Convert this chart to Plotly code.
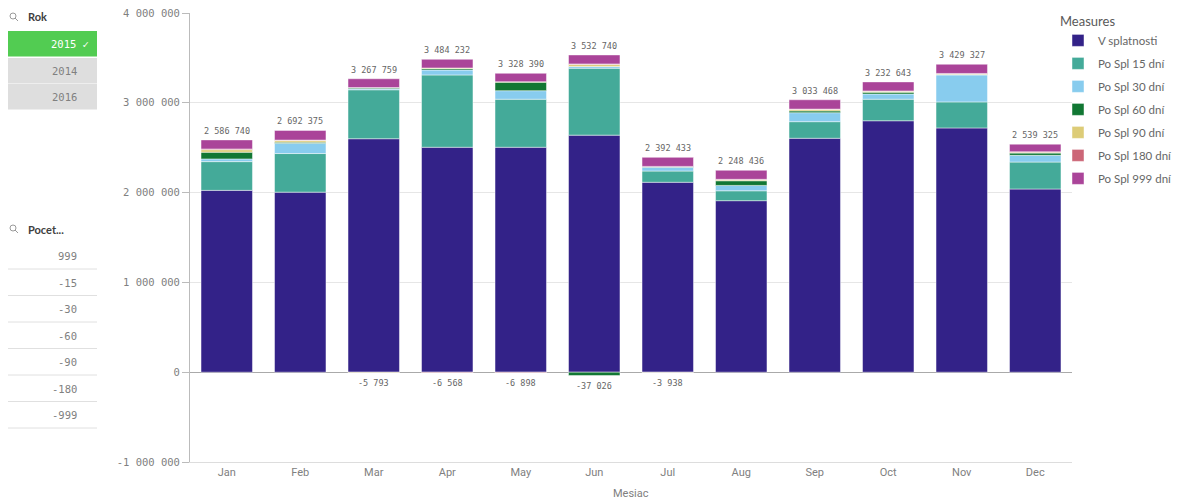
import plotly.graph_objects as go

months = ["Jan", "Feb", "Mar", "Apr", "May", "Jun", "Jul", "Aug", "Sep", "Oct", "Nov", "Dec"]

v_splatnosti = [2025000, 2005000, 2600000, 2505000, 2505000, 2640000, 2115000, 1910000, 2605000, 2800000, 2720000, 2040000]
po_spl_15 = [320000, 430000, 545000, 805000, 535000, 745000, 125000, 110000, 185000, 240000, 290000, 300000]
po_spl_30 = [30000, 115000, 12000, 55000, 95000, 20000, 42000, 60000, 100000, 58000, 300000, 75000]
po_spl_60 = [75000, 12000, 10000, 15000, 95000, -37026, 5000, 52000, 20000, 20000, 5000, 25000]
po_spl_90 = [28000, 18000, -5793, 8000, 5000, 22000, -3938, 10000, 15000, 10000, 8000, 10000]
po_spl_180 = [8000, 5000, 3000, -6568, -6898, 6000, 5000, 6000, 5000, 4000, 4000, 5000]
po_spl_999 = [100740, 107375, 97759, 96232, 93390, 99740, 100433, 100436, 103468, 100643, 102327, 84325]

series_names = ["V splatnosti", "Po Spl 15 dní", "Po Spl 30 dní", "Po Spl 60 dní",
                "Po Spl 90 dní", "Po Spl 180 dní", "Po Spl 999 dní"]
series_values = [v_splatnosti, po_spl_15, po_spl_30, po_spl_60, po_spl_90, po_spl_180, po_spl_999]
series_colors = ["#332288", "#44AA99", "#88CCEE", "#117733", "#DDCC77", "#CC6677", "#AA4499"]

y_ticks = [-1000000, 0, 1000000, 2000000, 3000000, 4000000]

rok_items = ["2015", "2014", "2016"]
pocet_items = ["999", "-15", "-30", "-60", "-90", "-180", "-999"]


def fmt(v):
    s = f"{abs(int(v)):,}".replace(",", " ")
    return ("-" if v < 0 else "") + s


MONO = "DejaVu Sans Mono"
SANS = "Lato, Noto Sans, sans-serif"
NARROW = "Liberation Sans Narrow, Roboto, sans-serif"

fig = go.Figure()
for name, vals, col in zip(series_names, series_values, series_colors):
    fig.add_trace(go.Bar(
        x=months, y=vals, name=name, legendgroup=name,
        marker=dict(color=col, line=dict(color="rgba(255,255,255,0.45)", width=1)),
        hoverinfo="skip",
    ))

pos_tot = [sum(max(s[i], 0) for s in series_values) for i in range(len(months))]
neg_tot = [sum(min(s[i], 0) for s in series_values) for i in range(len(months))]

annotations = []
for m, p, n in zip(months, pos_tot, neg_tot):
    annotations.append(dict(x=m, y=p, xref="x", yref="y", text=fmt(p), showarrow=False,
                            yanchor="bottom", yshift=2,
                            font=dict(family=MONO, size=8.5, color="#666666")))
    if n < 0:
        annotations.append(dict(x=m, y=n, xref="x", yref="y", text=fmt(n), showarrow=False,
                                yanchor="top", yshift=-3,
                                font=dict(family=MONO, size=8.5, color="#666666")))

# The page body has an 8px margin; reference pixel coords are compensated by OFF.
OFF = 8
FIG_W, FIG_H = 1181 - OFF, 501 - OFF
# plot area in reference pixel coords
L, R, T, B = 190, 1072, 13, 462


def px(x):
    return (x - L) / (R - L)


def py(y):
    return (B - y) / (B - T)


shapes = []

# axis title
annotations.append(dict(x=0.5, y=py(493), xref="paper", yref="paper", text="Mesiac",
                        showarrow=False, yanchor="middle",
                        font=dict(family=NARROW, size=11, color="#808080")))


def search_icon(cx, cy):
    shapes.append(dict(type="circle", xref="paper", yref="paper",
                       x0=px(cx - 3), x1=px(cx + 3), y0=py(cy + 3), y1=py(cy - 3),
                       line=dict(color="#9a9a9a", width=1)))
    shapes.append(dict(type="line", xref="paper", yref="paper",
                       x0=px(cx + 2), y0=py(cy + 2), x1=px(cx + 5), y1=py(cy + 5),
                       line=dict(color="#9a9a9a", width=1)))


# Rok filter pane
search_icon(13, 16)
annotations.append(dict(x=px(26), y=py(17), xref="paper", yref="paper", text="<b>Rok</b>",
                        showarrow=False, xanchor="left", yanchor="middle",
                        font=dict(family=SANS, size=11, color="#404040")))
row_tops = [31, 58, 84]
for i, (item, top) in enumerate(zip(rok_items, row_tops)):
    bottom = top + 25.5
    fill = "#52CC52" if i == 0 else "#DEDEDE"
    shapes.append(dict(type="rect", xref="paper", yref="paper",
                       x0=px(7), x1=px(97), y0=py(bottom), y1=py(top),
                       fillcolor=fill, line=dict(width=0), layer="below"))
    txt = item + " ✓" if i == 0 else item
    annotations.append(dict(x=px(91 if i == 0 else 79), y=py((top + bottom) / 2),
                            xref="paper", yref="paper", text=txt, showarrow=False,
                            xanchor="right", yanchor="middle",
                            font=dict(family=MONO, size=10.5,
                                      color="#FFFFFF" if i == 0 else "#808080")))

# Pocet filter pane
search_icon(13, 228)
annotations.append(dict(x=px(26), y=py(229), xref="paper", yref="paper", text="<b>Pocet...</b>",
                        showarrow=False, xanchor="left", yanchor="middle",
                        font=dict(family=SANS, size=11, color="#404040")))
for j, item in enumerate(pocet_items):
    cy = 256 + j * 26.5
    annotations.append(dict(x=px(79), y=py(cy), xref="paper", yref="paper", text=item,
                            showarrow=False, xanchor="right", yanchor="middle",
                            font=dict(family=MONO, size=10.5, color="#808080")))
    ly = cy + 13
    shapes.append(dict(type="line", xref="paper", yref="paper",
                       x0=px(7), x1=px(97), y0=py(ly), y1=py(ly),
                       line=dict(color="#E0E0E0", width=1)))

fig.update_layout(
    width=FIG_W, height=FIG_H,
    margin=dict(l=L - OFF, r=FIG_W - (R - OFF), t=T - OFF, b=FIG_H - (B - OFF), autoexpand=False),
    paper_bgcolor="white", plot_bgcolor="white",
    barmode="relative", bargap=0.3,
    showlegend=True,
    legend=dict(
        title=dict(text="Measures", font=dict(family=SANS, size=13, color="#595959")),
        x=px(1058), y=py(9), xanchor="left", yanchor="top",
        traceorder="grouped", tracegroupgap=4,
        font=dict(family=SANS, size=11.5, color="#666666"),
        bgcolor="rgba(0,0,0,0)", itemclick=False,
    ),
    xaxis=dict(
        showgrid=False, showline=True, linecolor="#DDDDDD", linewidth=1,
        ticks="", tickfont=dict(family=NARROW, size=11, color="#808080"),
        fixedrange=True, automargin=False,
    ),
    yaxis=dict(
        range=[-1000000, 4000000], tickvals=y_ticks, ticktext=[fmt(v) for v in y_ticks],
        showgrid=True, gridcolor="#E6E6E6", gridwidth=1,
        zeroline=True, zerolinecolor="#AAAAAA", zerolinewidth=1,
        showline=True, linecolor="#BBBBBB", linewidth=1,
        ticks="outside", ticklen=7, tickcolor="#BBBBBB",
        tickfont=dict(family=MONO, size=10.5, color="#808080"),
        ticklabeloverflow="allow",
        fixedrange=True, automargin=False,
    ),
    annotations=annotations,
    shapes=shapes,
)

fig.write_html("out.html")
